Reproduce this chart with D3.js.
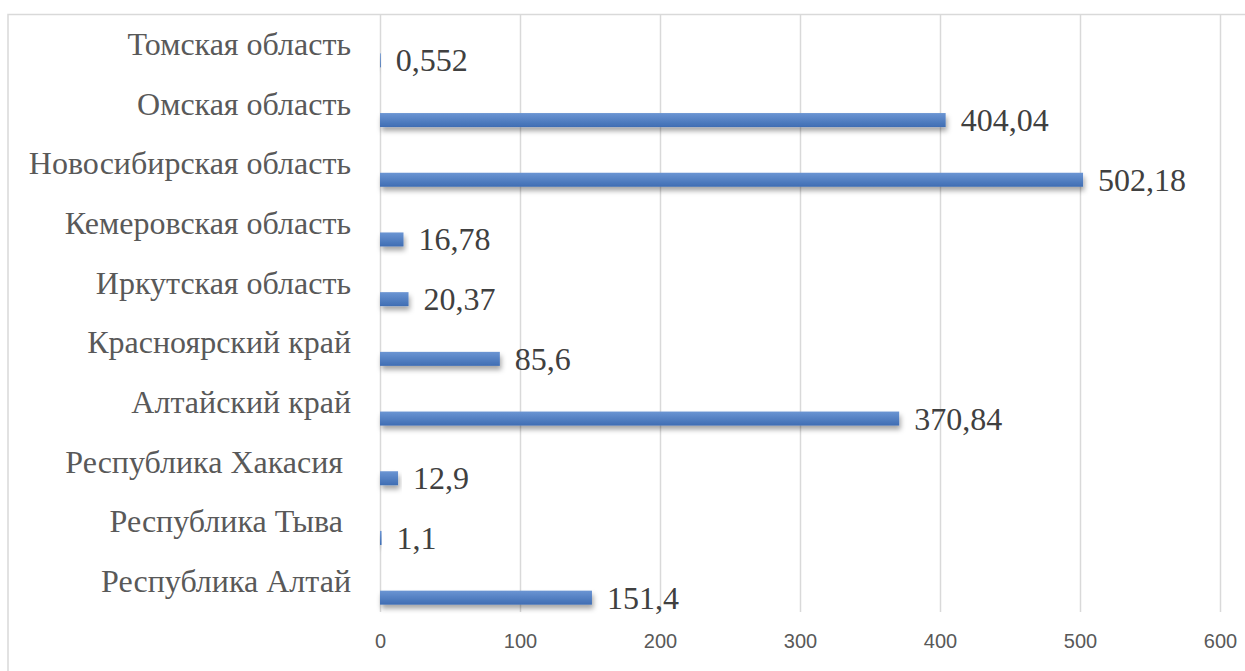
<!DOCTYPE html>
<html>
<head>
<meta charset="utf-8">
<script src="https://cdn.jsdelivr.net/npm/d3@7"></script>
<style>
  body { margin: 0; background: #fff; }
  .cat { font-family: 'Liberation Serif', 'Times New Roman', serif; font-size: 32px; fill: #595959; white-space: pre; }
  .val { font-family: 'Liberation Serif', 'Times New Roman', serif; font-size: 32px; fill: #404040; }
  .tick text { font-family: 'Liberation Sans', Arial, sans-serif; font-size: 20px; fill: #595959; }
</style>
</head>
<body>
<svg width="1245" height="671"></svg>
<script>
const categories = [
  'Томская область',
  'Омская область',
  'Новосибирская область',
  'Кемеровская область',
  'Иркутская область',
  'Красноярский край',
  'Алтайский край',
  'Республика Хакасия ',
  'Республика Тыва ',
  'Республика Алтай'
]
const values = [0.552, 404.04, 502.18, 16.78, 20.37, 85.6, 370.84, 12.9, 1.1, 151.4]
const valueLabels = ['0,552', '404,04', '502,18', '16,78', '20,37', '85,6', '370,84', '12,9', '1,1', '151,4']
const xTicks = [0, 100, 200, 300, 400, 500, 600]

const data = categories.map((c, i) => ({ cat: c, value: values[i], label: valueLabels[i] }))

const svg = d3.select('svg')
const width = +svg.attr('width')
const height = +svg.attr('height')

const plot = { left: 380, right: 1220, top: 15, bottom: 612 }

// outer frame
svg.append('rect')
  .attr('x', 8).attr('y', 14.5)
  .attr('width', width + 20).attr('height', height + 20)
  .attr('fill', '#fff')
  .attr('stroke', '#d9d9d9')
  .attr('stroke-width', 1.5)

const defs = svg.append('defs')
const grad = defs.append('linearGradient')
  .attr('id', 'barGrad')
  .attr('x1', 0).attr('y1', 0).attr('x2', 0).attr('y2', 1)
grad.append('stop').attr('offset', '0%').attr('stop-color', '#6b95d3')
grad.append('stop').attr('offset', '100%').attr('stop-color', '#3f6db3')

const shadow = defs.append('filter')
  .attr('id', 'shadow')
  .attr('x', '-20%').attr('y', '-50%')
  .attr('width', '140%').attr('height', '250%')
shadow.append('feDropShadow')
  .attr('dx', 1.5).attr('dy', 4)
  .attr('stdDeviation', 2.5)
  .attr('flood-color', '#000')
  .attr('flood-opacity', 0.35)

const xScale = d3.scaleLinear()
  .domain([0, 600])
  .range([plot.left, plot.right])

const yScale = d3.scaleBand()
  .domain(categories)
  .range([plot.top, plot.bottom])

const bw = yScale.bandwidth()
const barH = 14
const barOffset = bw / 2 + 15.5 - barH / 2

// gridlines + tick labels
const xAxis = d3.axisBottom(xScale)
  .tickValues(xTicks)
  .tickSize(-(plot.bottom - plot.top))
  .tickPadding(22)
  .tickFormat(d3.format('d'))

const xAxisGroup = svg.append('g')
  .attr('transform', `translate(0, ${plot.bottom})`)
  .call(xAxis)
xAxisGroup.select('.domain').remove()
xAxisGroup.selectAll('.tick line')
  .attr('stroke', '#d9d9d9')
  .attr('stroke-width', 1.5)

// bars
svg.append('g').selectAll('rect').data(data)
  .enter().append('rect')
  .attr('x', xScale(0))
  .attr('y', d => yScale(d.cat) + barOffset)
  .attr('width', d => Math.max(xScale(d.value) - xScale(0), 0.8))
  .attr('height', barH)
  .attr('fill', 'url(#barGrad)')
  .attr('filter', 'url(#shadow)')

// category labels
svg.append('g').selectAll('text').data(data)
  .enter().append('text')
  .attr('class', 'cat')
  .attr('x', 351)
  .attr('y', d => yScale(d.cat) + bw / 2 + 10)
  .attr('text-anchor', 'end')
  .text(d => d.cat)

// value labels
svg.append('g').selectAll('text').data(data)
  .enter().append('text')
  .attr('class', 'val')
  .attr('x', d => xScale(d.value) + 15)
  .attr('y', d => yScale(d.cat) + barOffset + barH / 2 + 11)
  .text(d => d.label)
</script>
</body>
</html>
